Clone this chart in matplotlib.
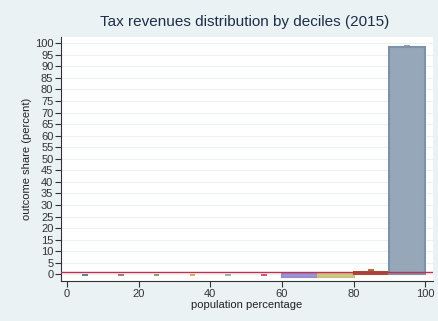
import numpy as np
import matplotlib
matplotlib.use("Agg")
import matplotlib.pyplot as plt

plt.rcParams['font.family'] = ['Liberation Sans', 'DejaVu Sans']

# decile data (population percentage 0-100, share of tax revenues)
decile_left = [0, 10, 20, 30, 40, 50, 60, 70, 80, 90]
share       = [-0.05, -0.05, -0.05, -0.05, -0.05, -0.05, -1.0, -1.0, 1.0, 98.2]
ci_low      = [-0.2, -0.2, -0.2, -0.2, -0.2, -0.2, -1.1, -1.1, 0.4, 97.4]
ci_high     = [-0.2, -0.2, -0.2, -0.2, -0.2, -0.2, -0.9, -0.9, 1.7, 99.0]
ref_line    = 0.9

edge_colors = ['#1a476f', '#90353b', '#55752f', '#e37e00', '#6e8e84',
               '#c10534', '#938dd2', '#cac27e', '#a0522d', '#7b92a8']
fill_colors = ['#1a476f', '#90353b', '#55752f', '#e37e00', '#a0aaa8',
               '#c10534', '#a49fd9', '#d2ca8e', '#a85a35', '#95a7b9']

bg = '#eaf2f3'
fig = plt.figure(figsize=(4.38, 3.21), dpi=100, facecolor=bg)
ax = fig.add_axes([61 / 438, 1 - 281 / 321, (433 - 61) / 438, (281 - 37) / 321])
ax.set_facecolor('white')

centers = np.array(decile_left) + 5

# error caps sit behind the bars
for i in range(len(centers)):
    if ci_high[i] - ci_low[i] > 0.01:
        ax.errorbar(centers[i], share[i],
                    yerr=[[share[i] - ci_low[i]], [ci_high[i] - share[i]]],
                    fmt='none', ecolor=edge_colors[i], elinewidth=1,
                    capsize=2.5, capthick=1.2, zorder=2)
    else:
        ax.plot([centers[i] - 0.8, centers[i] + 0.8], [ci_low[i]] * 2,
                color=edge_colors[i], lw=1.2, alpha=0.8,
                solid_capstyle='butt', zorder=2)

lws = [1.5 if abs(v) > 0.5 else 0 for v in share]
ax.bar(decile_left, share, width=10, align='edge', color=fill_colors,
       edgecolor=edge_colors, linewidth=lws, zorder=3)

ax.axhline(ref_line, color='#c0304a', lw=1, zorder=4)

ax.set_xlim(-1.7, 102.2)
ax.set_ylim(-2.9, 102.7)
ax.set_yticks(np.arange(0, 101, 5))
ax.set_xticks(np.arange(0, 101, 20))
ax.yaxis.grid(True, color=bg, lw=0.8, zorder=0)
ax.set_axisbelow(True)

for s in ['top', 'right']:
    ax.spines[s].set_visible(False)
for s in ['left', 'bottom']:
    ax.spines[s].set_color('#333333')
    ax.spines[s].set_linewidth(0.8)

ax.tick_params(axis='both', labelsize=8, colors='#333333', length=4, width=0.8, pad=1.5)

ax.set_xlabel('population percentage', fontsize=8, color='#222222', labelpad=1)
ax.set_ylabel('outcome share (percent)', fontsize=8, color='#222222', labelpad=2)

fig.text(245 / 438, 1 - 22 / 321, 'Tax revenues distribution by deciles (2015)',
         ha='center', va='center', fontsize=11, color='#1e2d4a')

fig.savefig('out.png', dpi=100, facecolor=bg)
